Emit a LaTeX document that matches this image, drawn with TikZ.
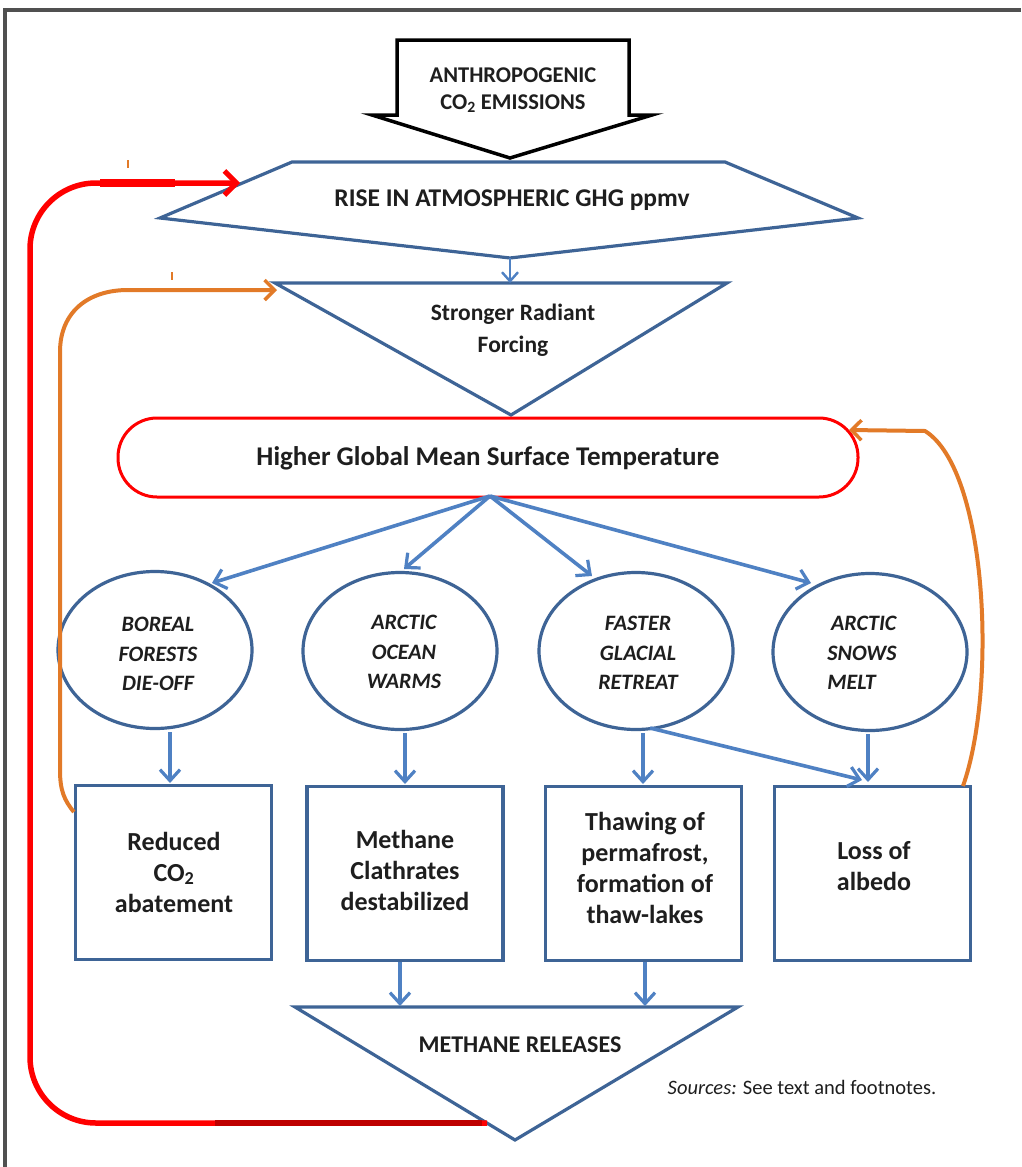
\documentclass[tikz,border=0pt]{standalone}
\usepackage{fontspec}
\setmainfont{Carlito}
\usetikzlibrary{arrows.meta,shapes.geometric}
\definecolor{shapeblue}{RGB}{62,100,150}
\definecolor{arrowblue}{RGB}{79,129,195}
\definecolor{loopred}{RGB}{255,0,0}
\definecolor{deepred}{RGB}{190,0,0}
\definecolor{loopor}{RGB}{226,122,40}
\definecolor{framegray}{RGB}{80,80,80}
\definecolor{txt}{RGB}{30,30,30}
\tikzset{
  shp/.style={draw=shapeblue, line width=3.2pt, line join=miter},
  barrow/.style={draw=arrowblue, line width=3.6pt, -{Straight Barb[length=11pt,width=20pt,line width=3.2pt]}},
  redloop/.style={draw=loopred, line width=5.5pt, rounded corners=66pt, -{Straight Barb[length=12pt,width=24pt,line width=5pt]}},
  orloop/.style={draw=loopor, line width=4pt, -{Straight Barb[length=10pt,width=20pt,line width=3.5pt]}},
  lbl/.style={align=center, text=txt, inner sep=0pt},
  elbl/.style={align=center, text=txt, font=\bfseries\itshape\fontsize{22}{29.5}\selectfont, inner sep=0pt},
  bxlbl/.style={align=center, text=txt, font=\bfseries\fontsize{26}{31}\selectfont, inner sep=0pt},
  ell/.style={ellipse, shp, minimum width=194pt, minimum height=157pt, inner sep=0pt},
  bx/.style={rectangle, shp, minimum width=196pt, minimum height=174pt, inner sep=0pt},
}
\begin{document}
\begin{tikzpicture}[x=1pt,y=-1pt]
\useasboundingbox (0,0) rectangle (1021,1167);
\fill[white] (0,0) rectangle (1021,1167);
% frame
\draw[framegray, line width=4pt] (5,1167) -- (5,10) -- (1021,10);

% anthropogenic block arrow
\draw[black, line width=3.5pt, line join=miter] (397,40) -- (629,40) -- (629,115) -- (652,115) -- (510,158) -- (372,115) -- (397,115) -- cycle;
\node[lbl, font=\bfseries\fontsize{22.5}{27}\selectfont] (anthro) at (513,90) {ANTHROPOGENIC\\CO\textsubscript{2} EMISSIONS};

% rise
\draw[shp] (292,162) -- (725,162) -- (858,218) -- (510,258) -- (160,218) -- cycle;
\node[lbl, font=\bfseries\fontsize{25.5}{28}\selectfont] (rise) at (512,200) {RISE IN ATMOSPHERIC GHG ppmv};
\coordinate (riseB) at (510,258);
\coordinate (riseL) at (240,183);

% stronger radiant forcing
\draw[shp] (275,283) -- (727,283) -- (511,415) -- cycle;
\node[lbl, font=\bfseries\fontsize{23.5}{32}\selectfont] (srf) at (513,330) {Stronger Radiant\\Forcing};
\coordinate (srfT) at (510,283);
\coordinate (srfL) at (277,290);

% higher temp
\draw[draw=loopred, line width=3pt, rounded corners=39pt] (118,418) rectangle (858,497);
\node[lbl, font=\bfseries\fontsize{27}{30}\selectfont] (hgmst) at (488,458) {Higher Global Mean Surface Temperature};
\coordinate (hB) at (490,496);
\coordinate (hR) at (849,430);

% ellipses
\node[ell] (boreal) at (155,650) {};
\node[elbl] at (158,654) {BOREAL\\FORESTS\\DIE-OFF};
\node[ell] (ocean) at (400,651) {};
\node[elbl] at (404,652) {ARCTIC\\OCEAN\\WARMS};
\node[ell] (glacial) at (636,651) {};
\node[elbl] at (638,653) {FASTER\\GLACIAL\\RETREAT};
\node[ell] (snows) at (870,652) {};
\node[elbl, align=left] at (862,653) {\,ARCTIC\\SNOWS\\MELT};

% boxes
\node[bx] (reduced) at (173.5,872.5) {};
\node[bxlbl] at (174,872) {Reduced\\CO\textsubscript{2}\\abatement};
\node[bx] (clath) at (405,873.5) {};
\node[bxlbl] at (405,870) {Methane\\Clathrates\\destabilized};
\node[bx] (thaw) at (643.5,873.5) {};
\node[bxlbl] at (645,868) {Thawing of\\permafrost,\\formation of\\thaw-lakes};
\node[bx] (albedo) at (872.5,873.5) {};
\node[bxlbl] at (874,866) {Loss of\\albedo};

% methane releases
\draw[shp] (295,1007) -- (738,1007) -- (515,1140) -- cycle;
\node[lbl, font=\bfseries\fontsize{24}{28}\selectfont] (mr) at (520,1045) {METHANE RELEASES};
\coordinate (mrL) at (487,1123);

% sources
\node[inner sep=0pt, text=txt, font=\fontsize{20.5}{24}\selectfont] (src) at (802,1087) {\textit{Sources:} See text and footnotes.};

% blue arrows
\draw[barrow, line width=2.6pt, -{Straight Barb[length=9pt,width=16pt,line width=2.4pt]}] (riseB) -- (srfT);
\draw[barrow] (hB) -- (212,583);
\draw[barrow] (hB) -- (404,569);
\draw[barrow] (hB) -- (592,576);
\draw[barrow] (hB) -- (811,583);
\draw[barrow] (boreal.south -| 170,0) ++(0,2) -- (170,783);
\draw[barrow] (ocean.south -| 405,0) ++(0,2) -- (405,784);
\draw[barrow] (glacial.south -| 643,0) ++(0,2) -- (643,784);
\draw[barrow] (snows.south -| 868,0) ++(0,2) -- (868,782);
\draw[barrow] (650,728) -- (862,780);
\draw[barrow] (clath.south -| 400,0) -- (400,1006);
\draw[barrow] (thaw.south -| 645,0) -- (645,1006);

% red loop
\draw[redloop] (mrL) -- (30,1123) -- (30,183) -- (riseL);
\draw[deepred, line width=5.5pt] (215,1123) -- (482,1123);
\draw[loopred, line width=8pt] (100,183) -- (175,183);

% orange loops
\draw[orloop] (reduced.west |- 0,812) .. controls (64,800) and (60,790) .. (60,770) -- (60,352) .. controls (60,312) and (88,290) .. (128,290) -- (srfL);
\draw[orloop] (963,786) .. controls (997,690) and (988,470) .. (925,431) -- (hR);

% tiny ticks
\draw[loopor, line width=1.5pt] (128,160) -- (128,168);
\draw[loopor, line width=1.5pt] (172,272) -- (172,280);
\end{tikzpicture}
\end{document}
